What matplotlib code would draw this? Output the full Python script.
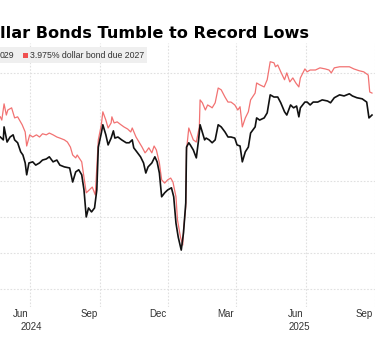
import matplotlib

matplotlib.use("Agg")
import matplotlib.pyplot as plt
import matplotlib.transforms as mtransforms
import pandas as pd

BASE = pd.Timestamp("2024-06-01")

# values: day offset from 2024-06-01 and price level
red_days = [-40, -38, -35, -32, -30, -25, -21, -17, -11, -7, -5, -1, 3, 8, 12, 16, 21, 25, 30, 35,
            39, 45, 49, 53, 56, 60, 62, 68, 71, 74, 78, 82, 86, 90, 94, 96, 100, 103, 107, 108,
            111, 115, 120, 124, 129, 133, 135, 140, 144, 148, 152, 154, 157, 161, 164, 167, 171, 174, 178, 182,
            186, 189, 193, 195, 199, 202, 203, 206, 207, 210, 212, 216, 220, 224, 225, 228, 232, 235, 239, 241,
            245, 249, 253, 258, 262, 266, 271, 275, 278, 281, 285, 289, 292, 298, 300, 304, 310, 314, 318, 323,
            325, 328, 332, 337, 340, 344, 348, 352, 356, 358, 364, 367, 371, 378, 384, 391, 396, 399, 403, 410,
            416, 423, 429, 436, 442, 448, 450, 453]
red_vals = [87.8, 86.9, 91.4, 88.3, 89.7, 90.3, 87.5, 87.8, 85.6, 83.6, 79.7, 82.8, 82.2, 82.8, 82.2, 83.1, 82.8, 83.3, 82.8, 82.2,
            81.9, 81.4, 80.8, 79.4, 77.2, 76.4, 77.2, 75.3, 71.1, 66.7, 67.5, 68.3, 66.1, 81.4, 85.6, 89.2, 86.9, 84.7, 86.1, 87.8,
            86.1, 86.4, 85.6, 85.0, 84.4, 83.6, 84.7, 82.2, 80.8, 79.4, 77.8, 78.3, 79.2, 77.8, 79.7, 78.6, 75.0, 70.3, 69.4, 70.3,
            70.8, 69.7, 65.6, 59.2, 54.4, 52.2, 56.4, 62.8, 78.6, 84.7, 83.6, 81.4, 80.8, 85.0, 92.5, 91.7, 89.7, 91.1, 90.6, 90.3,
            91.7, 95.8, 95.3, 93.3, 91.9, 91.9, 91.1, 89.7, 90.6, 85.0, 87.5, 89.2, 92.5, 94.4, 97.2, 96.7, 96.1, 98.1, 103.1, 102.8,
            101.7, 102.2, 100.3, 98.1, 100.0, 97.5, 98.6, 97.2, 96.1, 98.6, 101.1, 100.3, 100.8, 100.8, 101.4, 101.1, 100.8, 100.0, 101.4, 101.7,
            101.7, 101.7, 101.1, 100.6, 100.3, 99.4, 94.7, 94.4]

blk_days = [-40, -36, -35, -31, -27, -23, -21, -17, -13, -10, -7, -5, -2, 3, 7, 12, 16, 21, 25, 30,
            35, 39, 45, 52, 56, 60, 64, 68, 71, 74, 77, 81, 85, 88, 90, 94, 96, 100, 103, 107,
            110, 112, 116, 121, 127, 131, 135, 137, 141, 146, 150, 153, 156, 161, 165, 168, 171, 174, 178, 182,
            187, 190, 193, 196, 200, 203, 206, 207, 210, 212, 216, 220, 223, 225, 227, 231, 233, 237, 241, 245,
            249, 253, 258, 262, 266, 271, 274, 278, 281, 285, 289, 292, 298, 300, 304, 310, 314, 318, 323, 325,
            328, 332, 337, 340, 345, 349, 353, 356, 358, 364, 367, 371, 375, 381, 387, 394, 398, 403, 410, 416,
            423, 427, 433, 440, 446, 449, 453]
blk_vals = [82.2, 81.4, 85.0, 80.8, 82.2, 82.8, 81.4, 80.6, 78.1, 77.2, 75.0, 71.7, 75.0, 75.3, 74.4, 75.0, 75.8, 76.1, 76.7, 75.3,
            75.8, 74.4, 73.9, 73.6, 69.7, 72.5, 73.1, 71.7, 67.5, 60.0, 62.5, 61.4, 62.5, 67.5, 79.4, 83.3, 85.6, 82.8, 80.0, 81.9,
            83.9, 81.9, 82.2, 81.4, 80.6, 80.6, 81.4, 79.2, 78.1, 76.7, 75.0, 72.2, 73.9, 75.0, 76.7, 75.3, 72.2, 65.6, 66.7, 67.5,
            68.1, 65.6, 58.3, 54.4, 50.8, 55.6, 63.9, 79.4, 80.6, 80.0, 78.6, 76.4, 81.4, 85.6, 84.2, 81.4, 81.9, 81.4, 80.6, 81.4,
            85.6, 85.0, 83.6, 82.2, 82.2, 81.9, 80.0, 79.7, 75.3, 78.1, 79.4, 83.3, 85.0, 87.5, 86.9, 87.5, 88.9, 93.9, 93.3, 93.3,
            93.3, 91.7, 89.2, 88.3, 91.1, 90.3, 90.8, 87.8, 90.3, 91.9, 91.9, 91.1, 91.9, 91.9, 92.5, 92.2, 91.7, 93.1, 93.9, 93.6,
            94.2, 93.6, 93.1, 92.8, 91.9, 87.5, 88.3]

month_ticks = ["2024-06-01", "2024-09-01", "2024-12-01", "2025-03-01", "2025-06-01", "2025-09-01"]
month_labels = ["Jun", "Sep", "Dec", "Mar", "Jun", "Sep"]
year_ticks = ["2024-06-01", "2025-06-01"]
year_labels = ["2024", "2025"]
grid_levels = [40, 50, 60, 70, 100]

RED = "#f27272"
GRID = "#e0e0e0"
TXT = "#333333"

W, H = 375, 362


def to_dates(days):
    return BASE + pd.to_timedelta(days, unit="D")


fig = plt.figure(figsize=(W / 100, H / 100), dpi=100)
ax = fig.add_axes([0, 1 - 307 / H, 1, (307 - 43) / H])

ax.plot(to_dates(red_days), red_vals, color=RED, lw=0.9, zorder=3)
ax.plot(to_dates(blk_days), blk_vals, color="#111111", lw=1.2, zorder=4)

ax.set_xlim(BASE + pd.Timedelta(days=-40.4), BASE + pd.Timedelta(days=453))
ax.set_ylim(35.0, 108.3)

ax.set_xticks(pd.to_datetime(month_ticks))
ax.set_yticks(grid_levels)
ax.tick_params(length=0, labelbottom=False, labelleft=False)
ax.grid(True, color=GRID, lw=0.8, linestyle=(0, (1.5, 1.5)))
for s in ax.spines.values():
    s.set_visible(False)

# month labels sit just left of their gridline, years underneath
trans = mtransforms.blended_transform_factory(ax.transData, ax.transAxes)
for d, lab in zip(month_ticks, month_labels):
    t = mtransforms.offset_copy(trans, fig=fig, x=-2, y=-7, units="dots")
    ax.text(pd.Timestamp(d), 0, lab, transform=t, ha="right", va="center",
            fontsize=7, family="Liberation Sans", color=TXT)
for d, lab, dx in zip(year_ticks, year_labels, [1, -6]):
    t = mtransforms.offset_copy(trans, fig=fig, x=dx, y=-20, units="dots")
    ax.text(pd.Timestamp(d), 0, lab, transform=t, ha="center", va="center",
            fontsize=7, family="Liberation Sans", color=TXT)

# title + legend strip (cropped on the left in the original)
fig.text(0, 1 - 38 / H, "llar Bonds Tumble to Record Lows", ha="left", va="baseline",
         fontsize=11.6, fontweight="bold", color="black")
fig.patches.append(plt.Rectangle((0, 1 - 63 / H), 147 / W, 16 / H, transform=fig.transFigure,
                                 facecolor="#efefef", edgecolor="none", zorder=5))
fig.text(0, 1 - 55 / H, "029", ha="left", va="center", fontsize=6.3,
         family="Liberation Sans", color=TXT, zorder=6)
fig.patches.append(plt.Rectangle((23 / W, 1 - 58 / H), 5 / W, 5 / H, transform=fig.transFigure,
                                 facecolor="#f05050", edgecolor="none", zorder=6))
fig.text(29.5 / W, 1 - 55 / H, "3.975% dollar bond due 2027", ha="left", va="center", fontsize=6.3,
         family="Liberation Sans", color=TXT, zorder=6)

fig.savefig("out.png", dpi=100)
